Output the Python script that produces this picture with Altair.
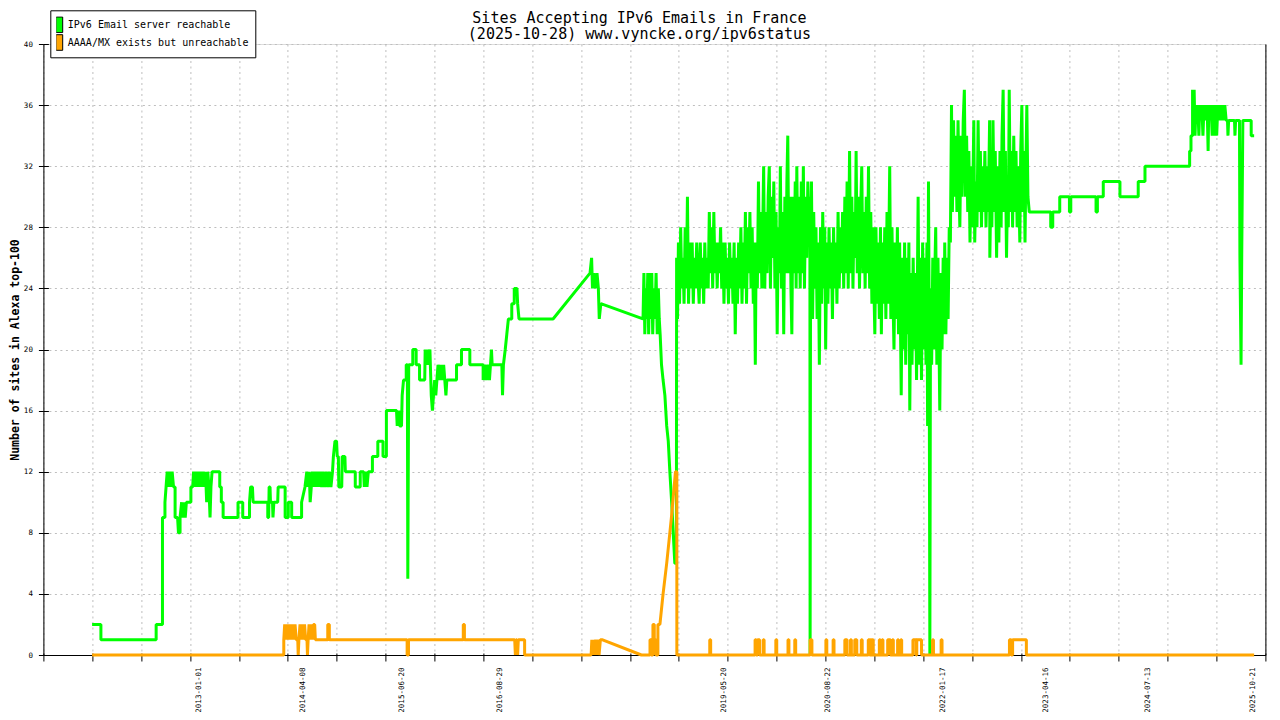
import altair as alt
import pandas as pd

# ---------------- text ----------------
title_lines = ["Sites Accepting IPv6 Emails in France", "(2025-10-28) www.vyncke.org/ipv6status"]
y_title = "Number of sites in Alexa top-100"
series_names = ["IPv6 Email server reachable", "AAAA/MX exists but unreachable"]
series_colors = ["#00ff00", "#ffa500"]

# ---------------- axes ----------------
y_ticks = [0, 4, 8, 12, 16, 20, 24, 28, 32, 36, 40]
x_label_dates = ["2013-01-01", "2014-04-08", "2015-06-20", "2016-08-29", "2019-05-20",
                 "2020-08-22", "2022-01-17", "2023-04-16", "2024-07-13", "2025-10-21"]
x_domain = ["2011-02-15", "2025-12-17"]
n_minor_ticks = 26

# ---------------- data ----------------
green_points = [
    ("2011-09-19", 2), ("2011-10-28", 2), ("2011-10-28", 1), ("2012-06-29", 1),
    ("2012-06-29", 2), ("2012-07-27", 2), ("2012-07-27", 9), ("2012-08-07", 9),
    ("2012-08-07", 10), ("2012-08-12", 11), ("2012-08-17", 12), ("2012-08-22", 11),
    ("2012-08-27", 12), ("2012-09-02", 11), ("2012-09-08", 12), ("2012-09-14", 11),
    ("2012-09-21", 11), ("2012-09-21", 9), ("2012-10-02", 9), ("2012-10-06", 8),
    ("2012-10-13", 8), ("2012-10-13", 9), ("2012-10-20", 10), ("2012-10-25", 9),
    ("2012-10-30", 10), ("2012-11-05", 9), ("2012-11-10", 10), ("2012-11-30", 10),
    ("2012-11-30", 11), ("2012-12-08", 11), ("2012-12-12", 12), ("2012-12-16", 11),
    ("2012-12-20", 12), ("2012-12-24", 11), ("2012-12-28", 12),
    ("2013-01-02", 11), ("2013-01-06", 12), ("2013-01-10", 11), ("2013-01-14", 12),
    ("2013-01-19", 11), ("2013-01-24", 12), ("2013-01-29", 11), ("2013-02-03", 12),
    ("2013-02-08", 10), ("2013-02-13", 12), ("2013-02-18", 11), ("2013-02-23", 9),
    ("2013-02-27", 11), ("2013-03-04", 12), ("2013-04-07", 12), ("2013-04-07", 11),
    ("2013-04-14", 11), ("2013-04-14", 10), ("2013-04-22", 10), ("2013-04-22", 9),
    ("2013-06-27", 9), ("2013-06-27", 10), ("2013-07-18", 10), ("2013-07-18", 9),
    ("2013-08-17", 9), ("2013-08-17", 10), ("2013-08-22", 11), ("2013-08-30", 11),
    ("2013-09-02", 10), ("2013-11-06", 10), ("2013-11-06", 9), ("2013-11-10", 9),
    ("2013-11-12", 11), ("2013-11-16", 11), ("2013-11-18", 10), ("2013-11-27", 10),
    ("2013-11-29", 9), ("2013-12-03", 10), ("2013-12-20", 10), ("2013-12-22", 11),
    ("2014-01-22", 11), ("2014-01-22", 9), ("2014-02-05", 9), ("2014-02-05", 10),
    ("2014-02-20", 10), ("2014-02-20", 9), ("2014-04-05", 9), ("2014-04-05", 10),
    ("2014-04-20", 11), ("2014-04-28", 12), ("2014-05-04", 11), ("2014-05-09", 12),
    ("2014-05-13", 10), ("2014-05-18", 11), ("2014-05-23", 12), ("2014-05-28", 11),
    ("2014-06-03", 12), ("2014-06-08", 11), ("2014-06-14", 12), ("2014-06-20", 11),
    ("2014-06-26", 12), ("2014-07-03", 11), ("2014-07-09", 12), ("2014-07-16", 11),
    ("2014-07-23", 12), ("2014-07-30", 11), ("2014-08-06", 12), ("2014-08-13", 11),
    ("2014-08-20", 12), ("2014-08-24", 13), ("2014-08-31", 14), ("2014-09-07", 14),
    ("2014-09-10", 13), ("2014-09-15", 13), ("2014-09-17", 11), ("2014-09-30", 11),
    ("2014-10-02", 13), ("2014-10-14", 13), ("2014-10-16", 12), ("2014-11-29", 12),
    ("2014-11-29", 11), ("2014-12-21", 11), ("2014-12-21", 12),
    ("2015-01-05", 12), ("2015-01-08", 11), ("2015-01-14", 12), ("2015-01-20", 11),
    ("2015-01-26", 12), ("2015-02-13", 12), ("2015-02-13", 13), ("2015-03-09", 13),
    ("2015-03-09", 14), ("2015-04-01", 14), ("2015-04-01", 13), ("2015-04-16", 13),
    ("2015-04-16", 16), ("2015-05-31", 16), ("2015-06-03", 15), ("2015-06-10", 16),
    ("2015-06-14", 15), ("2015-06-22", 15), ("2015-06-25", 17), ("2015-07-01", 18),
    ("2015-07-13", 18), ("2015-07-13", 19), ("2015-07-18", 19), ("2015-07-20", 5),
    ("2015-07-24", 19), ("2015-08-11", 19), ("2015-08-11", 20), ("2015-08-26", 20),
    ("2015-08-26", 19), ("2015-09-10", 19), ("2015-09-10", 18), ("2015-10-03", 18),
    ("2015-10-05", 20), ("2015-10-10", 19), ("2015-10-15", 20), ("2015-10-20", 19),
    ("2015-10-26", 20), ("2015-11-01", 17), ("2015-11-06", 16), ("2015-11-11", 17),
    ("2015-11-16", 18), ("2015-11-21", 17), ("2015-11-26", 18), ("2015-12-01", 19),
    ("2015-12-08", 18), ("2015-12-14", 19), ("2015-12-20", 18), ("2015-12-26", 19),
    ("2016-01-05", 17), ("2016-01-09", 18), ("2016-02-21", 18), ("2016-02-21", 19),
    ("2016-03-14", 19), ("2016-03-14", 20), ("2016-04-20", 20), ("2016-04-20", 19),
    ("2016-06-18", 19), ("2016-06-18", 18), ("2016-06-25", 19), ("2016-07-02", 18),
    ("2016-07-09", 19), ("2016-07-16", 18), ("2016-07-25", 20), ("2016-07-28", 19),
    ("2016-09-09", 19), ("2016-09-12", 17), ("2016-09-16", 19), ("2016-09-24", 20),
    ("2016-10-01", 21), ("2016-10-08", 22), ("2016-10-23", 22), ("2016-10-23", 23),
    ("2016-11-03", 23), ("2016-11-03", 24), ("2016-11-15", 24), ("2016-11-18", 23),
    ("2016-11-24", 22),
    ("2017-04-24", 22), ("2017-10-05", 25), ("2017-10-12", 26), ("2017-10-16", 24),
    ("2017-10-22", 25), ("2017-10-28", 24), ("2017-11-05", 25), ("2017-11-11", 24),
    ("2017-11-15", 22), ("2017-11-22", 23), ("2018-05-28", 22),
    ("2018-06-01", 25), ("2018-06-05", 21), ("2018-06-09", 24), ("2018-06-14", 22),
    ("2018-06-18", 25), ("2018-06-22", 21), ("2018-06-27", 25), ("2018-07-02", 22),
    ("2018-07-06", 25), ("2018-07-10", 21), ("2018-07-15", 24), ("2018-07-20", 22),
    ("2018-07-25", 25), ("2018-07-30", 21), ("2018-08-04", 24), ("2018-08-08", 22),
    ("2018-08-12", 21), ("2018-08-18", 19), ("2018-08-25", 18), ("2018-09-02", 17),
    ("2018-09-10", 15), ("2018-09-17", 14), ("2018-09-24", 12), ("2018-10-02", 10),
    ("2018-10-09", 8), ("2018-10-16", 6), ("2018-10-23", 6), ("2018-10-24", 26),
    ("2018-10-28", 22), ("2018-11-01", 27), ("2018-11-06", 23), ("2018-11-11", 28),
    ("2018-11-16", 24), ("2018-11-21", 26), ("2018-11-26", 23), ("2018-12-01", 28),
    ("2018-12-06", 24), ("2018-12-11", 30), ("2018-12-16", 23), ("2018-12-21", 27),
    ("2018-12-26", 24), ("2019-01-01", 27), ("2019-01-06", 23), ("2019-01-11", 26),
    ("2019-01-16", 24), ("2019-01-21", 27), ("2019-01-26", 25), ("2019-02-01", 23),
    ("2019-02-06", 27), ("2019-02-11", 24), ("2019-02-16", 26), ("2019-02-21", 23),
    ("2019-02-26", 27), ("2019-03-03", 24), ("2019-03-08", 26), ("2019-03-13", 24),
    ("2019-03-18", 29), ("2019-03-23", 25), ("2019-03-28", 28), ("2019-04-02", 24),
    ("2019-04-07", 29), ("2019-04-12", 25), ("2019-04-17", 27), ("2019-04-22", 24),
    ("2019-04-27", 27), ("2019-05-02", 25), ("2019-05-07", 28), ("2019-05-12", 24),
    ("2019-05-17", 27), ("2019-05-22", 23), ("2019-05-27", 27), ("2019-06-01", 24),
    ("2019-06-06", 26), ("2019-06-11", 23), ("2019-06-16", 27), ("2019-06-21", 24),
    ("2019-06-26", 26), ("2019-07-01", 23), ("2019-07-06", 27), ("2019-07-11", 21),
    ("2019-07-16", 26), ("2019-07-21", 23), ("2019-07-26", 27), ("2019-07-31", 24),
    ("2019-08-05", 28), ("2019-08-10", 23), ("2019-08-15", 27), ("2019-08-20", 24),
    ("2019-08-25", 29), ("2019-08-30", 23), ("2019-09-04", 28), ("2019-09-09", 25),
    ("2019-09-14", 29), ("2019-09-19", 24), ("2019-09-24", 28), ("2019-09-29", 23),
    ("2019-10-03", 27), ("2019-10-08", 19), ("2019-10-12", 27), ("2019-10-17", 24),
    ("2019-10-22", 31), ("2019-10-27", 25), ("2019-11-01", 29), ("2019-11-06", 24),
    ("2019-11-10", 28), ("2019-11-14", 32), ("2019-11-19", 24), ("2019-11-24", 29),
    ("2019-11-29", 25), ("2019-12-04", 30), ("2019-12-09", 32), ("2019-12-14", 24),
    ("2019-12-19", 30), ("2019-12-24", 26), ("2019-12-29", 31), ("2020-01-03", 24),
    ("2020-01-08", 29), ("2020-01-13", 21), ("2020-01-18", 28), ("2020-01-23", 25),
    ("2020-01-27", 32), ("2020-02-01", 24), ("2020-02-06", 29), ("2020-02-11", 21),
    ("2020-02-16", 30), ("2020-02-21", 25), ("2020-02-25", 31), ("2020-02-29", 34),
    ("2020-03-05", 25), ("2020-03-10", 30), ("2020-03-14", 24), ("2020-03-18", 21),
    ("2020-03-23", 30), ("2020-03-28", 25), ("2020-04-02", 31), ("2020-04-06", 24),
    ("2020-04-09", 32), ("2020-04-14", 25), ("2020-04-19", 30), ("2020-04-24", 24),
    ("2020-04-29", 31), ("2020-05-04", 25), ("2020-05-08", 32), ("2020-05-13", 24),
    ("2020-05-18", 30), ("2020-05-23", 26), ("2020-05-28", 31), ("2020-06-02", 27),
    ("2020-06-06", 30), ("2020-06-07", 0), ("2020-06-09", 26), ("2020-06-13", 31),
    ("2020-06-18", 22), ("2020-06-23", 29), ("2020-06-28", 24), ("2020-07-03", 28),
    ("2020-07-08", 22), ("2020-07-13", 27), ("2020-07-18", 19), ("2020-07-23", 28),
    ("2020-07-28", 23), ("2020-08-02", 29), ("2020-08-07", 24), ("2020-08-11", 28),
    ("2020-08-15", 20), ("2020-08-20", 27), ("2020-08-25", 23), ("2020-08-30", 28),
    ("2020-09-04", 24), ("2020-09-09", 27), ("2020-09-14", 22), ("2020-09-19", 28),
    ("2020-09-24", 24), ("2020-09-29", 27), ("2020-10-04", 23), ("2020-10-09", 29),
    ("2020-10-14", 24), ("2020-10-19", 28), ("2020-10-24", 25), ("2020-10-29", 29),
    ("2020-11-03", 24), ("2020-11-08", 30), ("2020-11-13", 25), ("2020-11-18", 31),
    ("2020-11-23", 24), ("2020-11-29", 33), ("2020-12-04", 25), ("2020-12-09", 30),
    ("2020-12-14", 24), ("2020-12-19", 29), ("2020-12-24", 26), ("2020-12-28", 33),
    ("2021-01-02", 25), ("2021-01-07", 30), ("2021-01-12", 24), ("2021-01-17", 29),
    ("2021-01-22", 32), ("2021-01-27", 25), ("2021-02-01", 29), ("2021-02-06", 24),
    ("2021-02-11", 30), ("2021-02-16", 25), ("2021-02-21", 32), ("2021-02-26", 24),
    ("2021-03-03", 29), ("2021-03-08", 23), ("2021-03-13", 28), ("2021-03-17", 24),
    ("2021-03-21", 21), ("2021-03-26", 28), ("2021-03-31", 23), ("2021-04-05", 27),
    ("2021-04-10", 22), ("2021-04-15", 28), ("2021-04-19", 21), ("2021-04-24", 27),
    ("2021-04-29", 23), ("2021-05-04", 28), ("2021-05-09", 22), ("2021-05-14", 29),
    ("2021-05-19", 23), ("2021-05-26", 32), ("2021-05-31", 22), ("2021-06-05", 28),
    ("2021-06-10", 23), ("2021-06-14", 20), ("2021-06-19", 27), ("2021-06-24", 22),
    ("2021-06-29", 28), ("2021-07-04", 21), ("2021-07-09", 27), ("2021-07-16", 17),
    ("2021-07-21", 26), ("2021-07-26", 20), ("2021-07-31", 27), ("2021-08-05", 19),
    ("2021-08-10", 26), ("2021-08-15", 21), ("2021-08-19", 27), ("2021-08-23", 16),
    ("2021-08-28", 25), ("2021-09-02", 19), ("2021-09-07", 26), ("2021-09-12", 20),
    ("2021-09-17", 25), ("2021-09-22", 18), ("2021-09-29", 30), ("2021-10-04", 19),
    ("2021-10-09", 26), ("2021-10-14", 18), ("2021-10-19", 27), ("2021-10-24", 20),
    ("2021-10-29", 26), ("2021-11-03", 19), ("2021-11-07", 27), ("2021-11-10", 15),
    ("2021-11-14", 31), ("2021-11-17", 22), ("2021-11-20", 0), ("2021-11-23", 24),
    ("2021-11-28", 19), ("2021-12-03", 26), ("2021-12-08", 20), ("2021-12-12", 25),
    ("2021-12-16", 28), ("2021-12-21", 19), ("2021-12-26", 26), ("2021-12-31", 20),
    ("2022-01-03", 16), ("2022-01-08", 25), ("2022-01-13", 20), ("2022-01-18", 26),
    ("2022-01-22", 21), ("2022-01-25", 27), ("2022-01-30", 21), ("2022-02-04", 26),
    ("2022-02-09", 22), ("2022-02-14", 28), ("2022-02-19", 27), ("2022-02-24", 36),
    ("2022-02-28", 29), ("2022-03-05", 35), ("2022-03-10", 30), ("2022-03-15", 34),
    ("2022-03-20", 29), ("2022-03-25", 35), ("2022-03-30", 30), ("2022-04-02", 28),
    ("2022-04-07", 34), ("2022-04-12", 30), ("2022-04-17", 35), ("2022-04-22", 37),
    ("2022-04-27", 30), ("2022-05-02", 34), ("2022-05-07", 29), ("2022-05-12", 33),
    ("2022-05-17", 27), ("2022-05-22", 32), ("2022-05-27", 28), ("2022-06-03", 35),
    ("2022-06-07", 27), ("2022-06-12", 31), ("2022-06-17", 28), ("2022-06-22", 35),
    ("2022-06-27", 29), ("2022-07-02", 33), ("2022-07-07", 28), ("2022-07-12", 32),
    ("2022-07-17", 29), ("2022-07-22", 33), ("2022-07-27", 28), ("2022-08-01", 32),
    ("2022-08-06", 29), ("2022-08-12", 35), ("2022-08-13", 26), ("2022-08-18", 31),
    ("2022-08-22", 28), ("2022-08-27", 35), ("2022-09-01", 29), ("2022-09-06", 33),
    ("2022-09-12", 26), ("2022-09-17", 32), ("2022-09-22", 27), ("2022-09-27", 33),
    ("2022-10-02", 28), ("2022-10-06", 34), ("2022-10-11", 37), ("2022-10-16", 29),
    ("2022-10-21", 33), ("2022-10-26", 26), ("2022-10-31", 31), ("2022-11-03", 28),
    ("2022-11-07", 37), ("2022-11-12", 29), ("2022-11-17", 33), ("2022-11-22", 28),
    ("2022-11-27", 34), ("2022-12-02", 29), ("2022-12-07", 33), ("2022-12-12", 28),
    ("2022-12-17", 32), ("2022-12-24", 27), ("2022-12-28", 33), ("2023-01-02", 36),
    ("2023-01-07", 29), ("2023-01-12", 33), ("2023-01-16", 27), ("2023-01-20", 32),
    ("2023-01-24", 36), ("2023-01-29", 30), ("2023-02-04", 29),
    ("2023-05-10", 29), ("2023-05-10", 28), ("2023-05-19", 28), ("2023-05-19", 29),
    ("2023-06-19", 29), ("2023-06-19", 30), ("2023-08-01", 30), ("2023-08-01", 29),
    ("2023-08-07", 29), ("2023-08-07", 30), ("2023-11-27", 30), ("2023-11-27", 29),
    ("2023-12-03", 29), ("2023-12-03", 30), ("2023-12-29", 30), ("2023-12-29", 31),
    ("2024-03-12", 31), ("2024-03-12", 30), ("2024-06-01", 30), ("2024-06-01", 31),
    ("2024-07-01", 31), ("2024-07-01", 32), ("2025-01-15", 32), ("2025-01-15", 33),
    ("2025-01-21", 33), ("2025-01-21", 34), ("2025-01-28", 34), ("2025-01-28", 37),
    ("2025-02-01", 35), ("2025-02-04", 37), ("2025-02-08", 34), ("2025-02-12", 36),
    ("2025-02-16", 35), ("2025-02-20", 36), ("2025-02-25", 34), ("2025-03-01", 36),
    ("2025-03-05", 35), ("2025-03-10", 36), ("2025-03-15", 34), ("2025-03-20", 36),
    ("2025-03-25", 35), ("2025-03-30", 36), ("2025-04-04", 35), ("2025-04-07", 33),
    ("2025-04-10", 36), ("2025-04-15", 35), ("2025-04-20", 36), ("2025-04-25", 34),
    ("2025-04-30", 36), ("2025-05-05", 34), ("2025-05-10", 36), ("2025-05-15", 34),
    ("2025-05-20", 36), ("2025-05-25", 35), ("2025-05-30", 36), ("2025-06-04", 35),
    ("2025-06-09", 36), ("2025-06-14", 35), ("2025-06-20", 36), ("2025-06-26", 35),
    ("2025-07-02", 35), ("2025-07-04", 34), ("2025-07-07", 35), ("2025-08-02", 35),
    ("2025-08-04", 34), ("2025-08-07", 35), ("2025-08-24", 35), ("2025-08-26", 26),
    ("2025-08-31", 19), ("2025-09-03", 26), ("2025-09-08", 35), ("2025-10-15", 35),
    ("2025-10-15", 34), ("2025-10-28", 34),
]

orange_points = [
    ("2011-09-19", 0), ("2014-01-16", 0), ("2014-01-16", 1), ("2014-01-20", 2),
    ("2014-01-24", 1), ("2014-01-28", 2), ("2014-02-02", 1), ("2014-02-06", 2),
    ("2014-02-11", 1), ("2014-02-15", 2), ("2014-02-20", 1), ("2014-02-25", 2),
    ("2014-03-02", 1), ("2014-03-07", 2), ("2014-03-12", 1), ("2014-03-19", 1),
    ("2014-03-21", 0), ("2014-03-24", 1), ("2014-03-29", 2), ("2014-04-03", 1),
    ("2014-04-08", 2), ("2014-04-13", 1), ("2014-04-18", 2), ("2014-04-23", 1),
    ("2014-04-29", 1), ("2014-05-01", 0), ("2014-05-04", 1), ("2014-05-08", 2),
    ("2014-05-13", 1), ("2014-05-18", 2), ("2014-05-23", 1), ("2014-05-28", 2),
    ("2014-06-02", 2), ("2014-06-05", 1), ("2014-07-30", 1), ("2014-07-30", 2),
    ("2014-08-06", 2), ("2014-08-06", 1), ("2015-07-17", 1), ("2015-07-17", 0),
    ("2015-07-23", 0), ("2015-07-23", 1), ("2016-03-22", 1), ("2016-03-22", 2),
    ("2016-03-27", 2), ("2016-03-27", 1), ("2016-11-05", 1), ("2016-11-08", 0),
    ("2016-11-11", 1), ("2016-11-15", 1), ("2016-11-18", 0), ("2016-11-21", 1),
    ("2016-12-19", 1), ("2016-12-19", 0), ("2017-10-10", 0), ("2017-10-13", 1),
    ("2017-10-17", 0), ("2017-10-21", 1), ("2017-10-25", 0), ("2017-10-30", 1),
    ("2017-11-04", 0), ("2017-11-09", 1), ("2017-11-14", 0), ("2017-11-20", 1),
    ("2017-11-27", 1), ("2018-05-21", 0), ("2018-06-28", 0), ("2018-06-28", 1),
    ("2018-07-03", 1), ("2018-07-03", 0), ("2018-07-11", 0), ("2018-07-11", 2),
    ("2018-07-17", 2), ("2018-07-17", 1), ("2018-07-24", 1), ("2018-07-24", 0),
    ("2018-08-02", 0), ("2018-08-02", 2), ("2018-08-11", 2), ("2018-08-18", 3),
    ("2018-08-25", 4), ("2018-09-02", 5), ("2018-09-10", 6), ("2018-09-17", 7),
    ("2018-09-24", 8), ("2018-10-01", 9), ("2018-10-07", 10), ("2018-10-13", 11),
    ("2018-10-19", 12), ("2018-10-25", 12), ("2018-10-25", 0),
]
# periods (start, end) during which the orange series sits at 1 instead of 0
orange_spikes = [
    ("2019-03-20", "2019-03-24"), ("2019-10-07", "2019-10-12"), ("2019-10-18", "2019-10-27"),
    ("2019-11-12", "2019-11-16"), ("2020-01-07", "2020-01-11"), ("2020-03-01", "2020-03-05"),
    ("2020-03-31", "2020-04-04"), ("2020-06-07", "2020-06-15"), ("2020-08-16", "2020-08-20"),
    ("2020-09-17", "2020-09-21"), ("2020-11-08", "2020-11-18"), ("2020-12-03", "2020-12-07"),
    ("2020-12-22", "2020-12-31"), ("2021-01-20", "2021-01-24"), ("2021-02-20", "2021-02-26"),
    ("2021-03-02", "2021-03-06"), ("2021-03-10", "2021-03-14"), ("2021-04-10", "2021-04-14"),
    ("2021-04-22", "2021-04-26"), ("2021-05-17", "2021-05-29"), ("2021-06-07", "2021-06-11"),
    ("2021-06-30", "2021-07-04"), ("2021-07-14", "2021-07-18"), ("2021-09-06", "2021-09-20"),
    ("2021-09-23", "2021-10-14"), ("2021-12-02", "2021-12-06"), ("2022-01-09", "2022-01-13"),
    ("2022-11-08", "2022-11-16"), ("2022-11-22", "2023-01-22"),
]
orange_last = [("2025-10-28", 0)]

# ---------------- build tables ----------------
def to_df(points):
    df = pd.DataFrame(points, columns=["date", "value"])
    df["date"] = pd.to_datetime(df["date"])
    df["i"] = range(len(df))
    return df


orange_all = list(orange_points)
for s, e in orange_spikes:
    orange_all += [(s, 0), (s, 1), (e, 1), (e, 0)]
orange_all += orange_last

green_df = to_df(green_points)
orange_df = to_df(orange_all)
legend_df = pd.DataFrame({"series": series_names})


def dt(ts):
    ts = pd.Timestamp(ts)
    return alt.DateTime(year=ts.year, month=ts.month, date=ts.day,
                        hours=ts.hour, minutes=ts.minute, seconds=ts.second)


minor_ticks = [dt(t) for t in pd.date_range(x_domain[0], x_domain[1], periods=n_minor_ticks)]
label_ticks = [dt(t) for t in x_label_dates]

mono = "DejaVu Sans Mono"
grid_color = "#bebebe"
grid_dash = [2, 3.5]

x_scale = alt.Scale(domain=[dt(x_domain[0]), dt(x_domain[1])], nice=False)
y_scale = alt.Scale(domain=[0, 40], nice=False, zero=False)
color_scale = alt.Scale(domain=series_names, range=series_colors)

# ---------------- layers ----------------
green_line = alt.Chart(green_df).mark_line(
    color=series_colors[0], strokeWidth=3, strokeJoin="bevel"
).encode(
    x=alt.X("date:T", scale=x_scale, axis=alt.Axis(
        orient="bottom", values=minor_ticks, labels=False, title=None,
        tickSize=6, tickColor="black", tickWidth=1, domainColor="black", domainWidth=1,
        grid=True, gridColor=grid_color, gridDash=grid_dash, gridWidth=1)),
    y=alt.Y("value:Q", scale=y_scale, axis=alt.Axis(
        orient="left", values=y_ticks, title=y_title,
        titleFont=mono, titleFontSize=11.5, titleFontWeight="bold", titleColor="black",
        titleAngle=270, titleAlign="center", titleBaseline="middle", titleX=-28.1, titleY=305.5,
        labelFont=mono, labelFontSize=7.5, labelColor="black", labelPadding=6,
        labelFlush=False, labelOverlap=False,
        tickSize=5, tickColor="black", tickWidth=1, domainColor="black", domainWidth=1,
        grid=True, gridColor=grid_color, gridDash=grid_dash, gridWidth=1)),
    order="i:Q",
)

orange_line = alt.Chart(orange_df).mark_line(
    color=series_colors[1], strokeWidth=3, strokeJoin="bevel"
).encode(
    x=alt.X("date:T", scale=x_scale, axis=alt.Axis(
        orient="bottom", values=label_ticks, format="%Y-%m-%d", title=None,
        labelAngle=270, labelFont=mono, labelFontSize=7.5, labelColor="black",
        labelPadding=12, labelOverlap=False, labelFlush=False,
        ticks=False, tickSize=0, domain=False, grid=False)),
    y=alt.Y("value:Q", scale=y_scale, axis=alt.Axis(
        orient="right", title=None, labels=False, ticks=False, grid=False,
        domain=True, domainColor="black", domainWidth=1)),
    order="i:Q",
)

inner_ticks = alt.Chart(green_df).mark_line(strokeWidth=0, strokeOpacity=0).encode(
    x=alt.X("date:T", scale=x_scale, axis=alt.Axis(
        orient="bottom", values=minor_ticks, labels=False, title=None, offset=-2,
        tickSize=2, tickColor="black", domain=False, grid=False)),
    y=alt.Y("value:Q", scale=y_scale, axis=alt.Axis(
        orient="left", values=y_ticks, labels=False, title=None, offset=-5,
        tickSize=5, tickColor="black", domain=False, grid=False)),
    order="i:Q",
)

legend_layer = alt.Chart(legend_df).mark_point(filled=True, size=0).encode(
    color=alt.Color("series:N", scale=color_scale, legend=alt.Legend(
        orient="none", legendX=6.9, legendY=-33.7, title=None,
        symbolType="M-1.178,-1.733L0.311,-1.733L0.311,1.733L-1.178,1.733Z",
        symbolSize=81, symbolStrokeColor="black", symbolStrokeWidth=1, symbolOpacity=1,
        labelFont=mono, labelFontSize=10, labelColor="black", labelLimit=400,
        labelOffset=1.5, clipHeight=17, rowPadding=0.7, padding=6,
        strokeColor="black", fillColor="white")),
)

chart = alt.layer(green_line, orange_line, inner_ticks, legend_layer).resolve_axis(
    x="independent", y="independent"
).properties(
    width=1222,
    height=611,
    title=alt.Title(text=title_lines, font=mono, fontSize=15, fontWeight="normal",
                    color="black", anchor="middle", frame="group", dx=-15,
                    offset=8, dy=40.5, lineHeight=16.5),
    padding={"left": 35.4, "top": 36, "right": 6.6, "bottom": 57},
    autosize=alt.AutoSizeParams(type="none"),
).configure_view(stroke=None).configure(background="white")

chart.save("out.html", embed_options={"renderer": "svg", "actions": False})
